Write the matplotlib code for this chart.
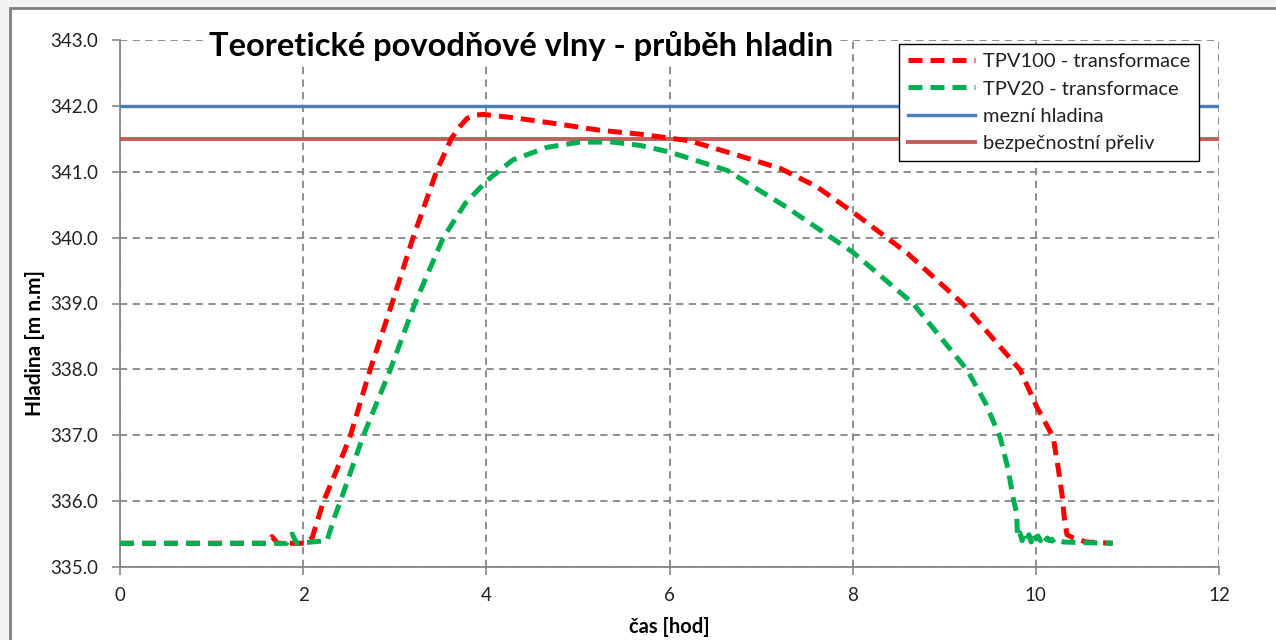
import matplotlib.pyplot as plt
from matplotlib.patches import Rectangle

plt.rcParams['font.family'] = ['Lato', 'DejaVu Sans']

# data
red_t = [0, 1.60, 1.66, 1.72, 2.04, 2.10, 2.22, 2.36, 2.51, 2.73, 2.97, 3.20, 3.46, 3.62,
         3.72, 3.79, 3.88, 3.97, 4.30, 4.66, 5.24, 5.68, 6.22, 6.70, 7.21, 7.60, 8.00,
         8.60, 9.20, 9.55, 9.83, 10.01, 10.19, 10.25, 10.29, 10.31, 10.34, 10.41, 10.55, 10.84]
red_h = [335.36, 335.36, 335.46, 335.36, 335.36, 335.45, 335.99, 336.45, 336.97, 337.99,
         339.00, 340.00, 341.02, 341.51, 341.70, 341.81, 341.86, 341.87, 341.82, 341.75,
         341.63, 341.57, 341.47, 341.27, 341.05, 340.78, 340.39, 339.76, 339.00, 338.44,
         337.99, 337.43, 336.97, 336.45, 336.06, 335.75, 335.49, 335.44, 335.38, 335.36]

green_t = [0, 1.82, 1.88, 1.93, 2.26, 2.34, 2.42, 2.65, 2.95, 3.22, 3.53, 3.77, 4.01, 4.29,
           4.66, 5.02, 5.38, 5.68, 6.00, 6.63, 7.28, 8.00, 8.66, 9.25, 9.45, 9.61, 9.70,
           9.75, 9.79, 9.80, 9.825, 9.85, 9.875, 9.90, 9.925, 9.95, 9.975, 10.00, 10.025,
           10.05, 10.075, 10.10, 10.125, 10.15, 10.175, 10.20, 10.25, 10.30, 10.50, 10.84]
green_h = [335.36, 335.36, 335.50, 335.36, 335.40, 335.75, 336.05, 336.97, 337.99, 339.00,
           340.00, 340.52, 340.87, 341.18, 341.37, 341.45, 341.45, 341.40, 341.30, 341.02,
           340.46, 339.78, 339.00, 337.99, 337.49, 336.97, 336.47, 336.06, 335.82, 335.46,
           335.52, 335.40, 335.50, 335.42, 335.49, 335.38, 335.50, 335.43, 335.47, 335.40,
           335.46, 335.39, 335.44, 335.40, 335.42, 335.37, 335.40, 335.38, 335.37, 335.36]

mezni = 342.0
prepad = 341.5

fig = plt.figure(figsize=(12.76, 6.4), dpi=100, facecolor='#f2f2f2')
fig.patches.append(Rectangle((10 / 1276, -0.1), 1.1, 1.1 - 8 / 640, transform=fig.transFigure,
                             facecolor='white', edgecolor='#7f7f7f', linewidth=2, zorder=-1))

ax = fig.add_axes([120 / 1276, 1 - 567 / 640, 1099 / 1276, 527 / 640])
ax.set_facecolor('white')

ax.plot(red_t, red_h, color='#FF0000', lw=3.6, ls=(0, (2.8, 1.6)), label='TPV100 - transformace', zorder=4)
ax.plot(green_t, green_h, color='#00B050', lw=3.6, ls=(0, (2.8, 1.6)), label='TPV20 - transformace', zorder=5)
ax.axhline(mezni, color='#4A7EBB', lw=2.4, label='mezní hladina', zorder=3)
ax.axhline(prepad, color='#BE4B48', lw=2.8, alpha=0.9, label='bezpečnostní přeliv', zorder=3)

ax.set_xlim(0, 12)
ax.set_ylim(335, 343)
ax.set_xticks(range(0, 13, 2))
ax.set_yticks(range(335, 344))
ax.set_yticklabels([f'{v:.1f}' for v in range(335, 344)])
ax.grid(True, color='#868686', ls=(0, (4, 3)), lw=1.3)
ax.set_axisbelow(True)
for s in ['top', 'right']:
    ax.spines[s].set_visible(False)
for s in ['left', 'bottom']:
    ax.spines[s].set_color('#868686')
    ax.spines[s].set_linewidth(1.3)
ax.tick_params(colors='#868686', labelcolor='#222222', labelsize=13.5, length=5.5, width=1.2)
ax.tick_params(axis='y', pad=10)
ax.tick_params(axis='x', pad=9)

ax.set_xlabel('čas [hod]', fontsize=14.5, fontweight='bold')
ax.set_ylabel('Hladina [m n.m]', fontsize=15, fontweight='bold')
ax.xaxis.set_label_coords(0.5, -0.094)
ax.yaxis.set_label_coords(-0.068, 0.425)

fig.text(521 / 1276, 1 - 46 / 640, 'Teoretické povodňové vlny - průběh hladin', fontsize=23.5,
         fontweight='bold', ha='center', va='center',
         bbox=dict(facecolor='white', edgecolor='none', pad=3))

leg = ax.legend(loc='upper right', bbox_to_anchor=(0.982, 0.992), borderaxespad=0, fontsize=14.5,
                frameon=True, fancybox=False, edgecolor='black', framealpha=1,
                handlelength=3.3, handletextpad=0.4, borderpad=0.45, labelspacing=0.5)
leg.get_frame().set_linewidth(1.0)
for t in leg.get_texts():
    t.set_color('#222222')

fig.savefig('out.png', dpi=100, facecolor=fig.get_facecolor())
